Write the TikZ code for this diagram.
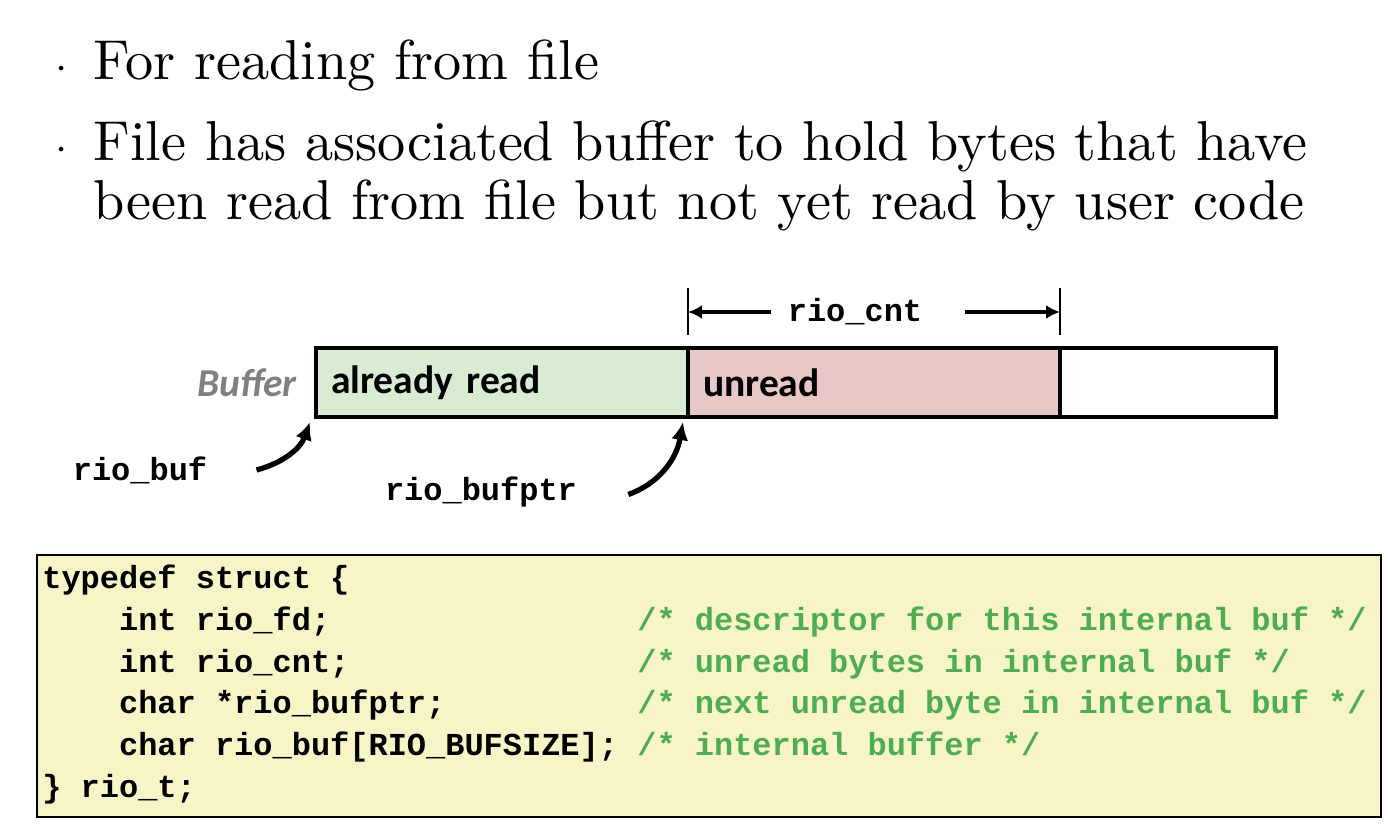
\documentclass[tikz,border=0pt]{standalone}
\usepackage{fontspec}
\usepackage{tikz}
\usetikzlibrary{positioning,arrows.meta}
\newfontfamily\slidefont{lmroman10-regular}[Extension=.otf]
\newfontfamily\cellfont{Carlito}
\newfontfamily\codefont{Liberation Mono}
\definecolor{readgreen}{RGB}{217,236,211}
\definecolor{unreadred}{RGB}{233,199,199}
\definecolor{codebg}{RGB}{247,244,199}
\definecolor{cmtgreen}{RGB}{78,172,82}
\newcommand{\cmt}[1]{\textcolor{cmtgreen}{#1}}
\newcommand{\ind}{\hspace*{2.4em}}

\begin{document}
\begin{tikzpicture}[>=Latex,
    txt/.style={inner sep=0,anchor=base west,font=\slidefont\fontsize{32}{33.5}\selectfont},
    cell/.style={draw,line width=2.2pt,outer sep=0,minimum height=1.38cm,inner xsep=0.3cm,text width=6.84cm,align=left,font=\cellfont\bfseries\fontsize{22.5}{27}\selectfont},
    code/.style={inner sep=0,font=\codefont\bfseries\fontsize{18.2}{23.7}\selectfont},
    tick/.style={line width=1.1pt},
    dim/.style={->,line width=2pt,>={Latex[length=0.28cm,width=0.28cm]}},
    ptr/.style={->,line width=3pt,>={Latex[length=0.36cm,width=0.34cm]}}]
  \useasboundingbox (0,0) rectangle (27.76,16.56);
  \node[txt] (dot1) at (1.1,14.96) {$\cdot$};
  \node[txt] (for) at (1.86,14.96) {For reading from file};
  \node[txt] (dot2) at (1.1,13.34) {$\cdot$};
  \node[txt] (has) at (1.86,13.34) {File has associated buffer to hold bytes that have};
  \node[txt] (been) at (1.86,12.16) {been read from file but not yet read by user code};

  \node[cell,fill=readgreen,anchor=west] (read) at (6.32,8.91) {already read};
  \node[cell,fill=unreadred,anchor=west] (unread) at (read.east) {unread};
  \node[cell,text width=3.72cm,anchor=west] (free) at (unread.east) {};
  \node[left=0.38cm of read,inner sep=0,text=gray,font=\cellfont\bfseries\itshape\fontsize{22.5}{27}\selectfont] (buflbl) {Buffer};

  \draw[tick] ([yshift=0.26cm]unread.north west) -- ++(0,0.94);
  \draw[tick] ([yshift=0.26cm]unread.north east) -- ++(0,0.94);
  \node[code] (cnt) at (17.1,10.32) {rio\_cnt};
  \draw[dim] ([xshift=-0.32cm]cnt.west) -- (cnt.west -| unread.west);
  \draw[dim] ([xshift=0.84cm]cnt.east) -- (cnt.east -| unread.east);

  \node[code] (rbuf) at (2.8,7.16) {rio\_buf};
  \node[code] (rbufptr) at (9.62,6.72) {rio\_bufptr};
  \draw[ptr] ([xshift=0.98cm]rbuf.east) to[out=15,in=-110] ([shift={(-0.12,-0.1)}]read.south west);
  \draw[ptr] ([xshift=1.02cm,yshift=-0.05cm]rbufptr.east) to[out=20,in=-100] ([shift={(-0.1,-0.1)}]read.south east);

  \node[draw,fill=codebg,line width=1.2pt,minimum width=26.88cm,minimum height=5.24cm,anchor=south west] (codebox) at (0.72,0.2) {};
  \node[code,anchor=base west] (struct) at (0.84,4.78) {\begin{tabular}[t]{@{}l@{\hspace{0.6em}}l@{}}
typedef struct \{ & \\
\ind int rio\_fd; & \cmt{/* descriptor for this internal buf */}\\
\ind int rio\_cnt; & \cmt{/* unread bytes in internal buf */}\\
\ind char *rio\_bufptr; & \cmt{/* next unread byte in internal buf */}\\
\ind char rio\_buf[RIO\_BUFSIZE]; & \cmt{/* internal buffer */}\\
\} rio\_t; &
\end{tabular}};
\end{tikzpicture}
\end{document}
